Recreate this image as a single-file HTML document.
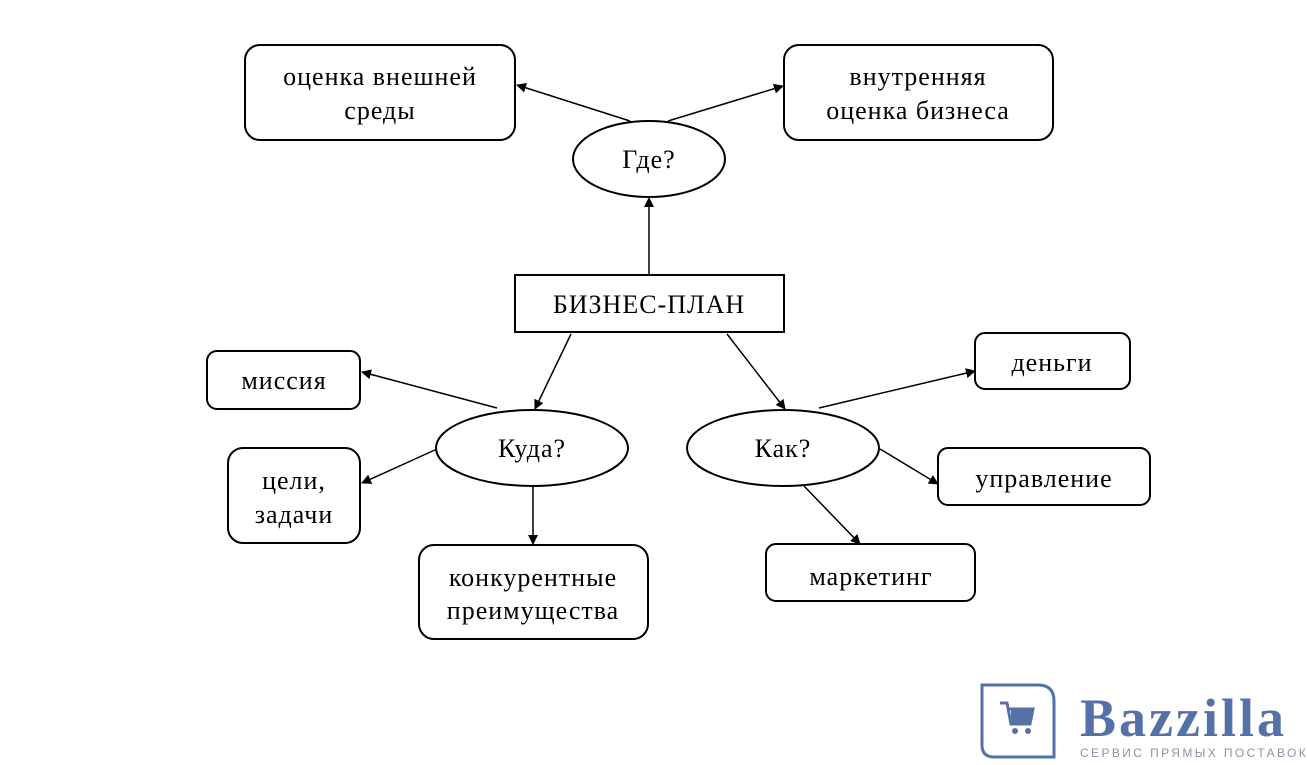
<!DOCTYPE html>
<html><head><meta charset="utf-8"><style>
html,body{margin:0;padding:0;background:#fff;width:1307px;height:765px;overflow:hidden}
svg{display:block}
text{font-family:"Liberation Serif","Noto Serif CJK SC",serif;font-size:26px;letter-spacing:1px;fill:#000}
</style></head><body>
<svg width="1307" height="765" viewBox="0 0 1307 765">
<defs><marker id="a" markerWidth="10" markerHeight="10" refX="9" refY="5" orient="auto" markerUnits="userSpaceOnUse"><path d="M0,0 L10,5 L0,10 z" fill="#000"/></marker></defs>
<g fill="none" stroke="#000" stroke-width="2">
<rect x="245" y="45" width="270" height="95" rx="15"/>
<rect x="784" y="45" width="269" height="95" rx="15"/>
<ellipse cx="649" cy="159" rx="76" ry="38"/>
<rect x="515" y="275" width="269" height="57"/>
<rect x="207" y="351" width="153" height="58" rx="10"/>
<ellipse cx="532" cy="448" rx="96" ry="38"/>
<ellipse cx="783" cy="448" rx="96" ry="38"/>
<rect x="228" y="448" width="132" height="95" rx="15"/>
<rect x="419" y="545" width="229" height="94" rx="15"/>
<rect x="975" y="333" width="155" height="56" rx="10"/>
<rect x="938" y="448" width="212" height="57" rx="10"/>
<rect x="766" y="544" width="209" height="57" rx="10"/>
</g>
<g stroke="#000" stroke-width="1.5" marker-end="url(#a)">
<line x1="630" y1="121" x2="517" y2="85"/>
<line x1="668" y1="121" x2="783" y2="86"/>
<line x1="649" y1="275" x2="649" y2="198"/>
<line x1="571" y1="334" x2="535" y2="409"/>
<line x1="727" y1="334" x2="785" y2="409"/>
<line x1="497" y1="408" x2="362" y2="372"/>
<line x1="437" y1="449" x2="362" y2="483"/>
<line x1="533" y1="486" x2="533" y2="544"/>
<line x1="819" y1="408" x2="975" y2="371"/>
<line x1="880" y1="449" x2="938" y2="484"/>
<line x1="804" y1="486" x2="860" y2="544"/>
</g>
<g text-anchor="middle">
<text x="380" y="85">оценка внешней</text>
<text x="380" y="119">среды</text>
<text x="918" y="85">внутренняя</text>
<text x="918" y="119">оценка бизнеса</text>
<text x="649" y="168">Где?</text>
<text x="649" y="313" font-size="30">БИЗНЕС-ПЛАН</text>
<text x="284" y="389">миссия</text>
<text x="532" y="457">Куда?</text>
<text x="783" y="457">Как?</text>
<text x="294" y="489">цели,</text>
<text x="294" y="523">задачи</text>
<text x="533" y="586">конкурентные</text>
<text x="533" y="619">преимущества</text>
<text x="1052" y="371">деньги</text>
<text x="1044" y="487">управление</text>
<text x="871" y="585">маркетинг</text>
</g>
<g>
<path d="M982,685 L1038,685 Q1054,685 1054,701 L1054,757 L994,757 Q982,757 982,745 Z" fill="none" stroke="#5572a8" stroke-width="3"/>
<path d="M1000,703 L1007,703 L1011,724 L1030,724 L1033,709 L1009,709" fill="none" stroke="#5572a8" stroke-width="3"/>
<rect x="1011" y="710" width="20" height="13" fill="#5572a8"/>
<circle cx="1015" cy="731" r="3" fill="#5572a8"/><circle cx="1028" cy="731" r="3" fill="#5572a8"/>
<text x="1080" y="736" style="font-family:'Liberation Serif',serif;font-size:54px;font-weight:bold;fill:#5572a8;letter-spacing:3px">Bazzilla</text>
<text x="1080" y="757" style="font-family:'Liberation Sans',sans-serif;font-size:12px;fill:#8a93a6;letter-spacing:2.4px">СЕРВИС ПРЯМЫХ ПОСТАВОК</text>
</g>
</svg>
</body></html>
